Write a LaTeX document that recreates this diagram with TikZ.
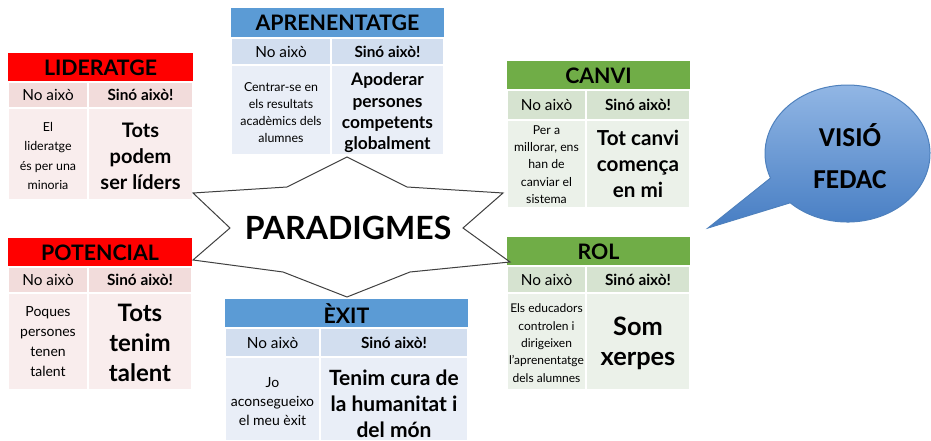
\documentclass[tikz,border=0pt]{standalone}
\usepackage{fontspec}
\setmainfont{Lato}
\newfontfamily\bubfont{Carlito}
\definecolor{redHdr}{RGB}{255,0,0}
\definecolor{redSub}{RGB}{242,220,219}
\definecolor{redBody}{RGB}{249,237,237}
\definecolor{bluHdr}{RGB}{91,155,213}
\definecolor{bluSub}{RGB}{210,222,239}
\definecolor{bluBody}{RGB}{233,238,247}
\definecolor{grnHdr}{RGB}{112,173,71}
\definecolor{grnSub}{RGB}{214,227,208}
\definecolor{grnBody}{RGB}{235,241,233}
\definecolor{bubTop}{RGB}{149,185,230}
\definecolor{bubBot}{RGB}{70,125,195}
\definecolor{bubLine}{RGB}{79,129,189}
\definecolor{starLine}{RGB}{64,64,64}
\tikzset{
  cell/.style={draw=white, line width=1.5pt},
  hdrtxt/.style={inner sep=0pt, font=\fontsize{16}{19}\selectfont\bfseries},
  subtxt/.style={inner sep=0pt, font=\fontsize{11.5}{14}\selectfont},
  subbf/.style={inner sep=0pt, font=\fontsize{11.5}{14}\selectfont\bfseries},
  lefttxt/.style={inner sep=0pt, align=center},
  righttxt/.style={inner sep=0pt, align=center}
}
\begin{document}
\begin{tikzpicture}[x=0.75pt,y=0.75pt,yscale=-1,xscale=1]
\useasboundingbox (0,0) rectangle (931,441);

%Table: LIDERATGE
\fill[redHdr] (8,53) rectangle (193,82);
\draw[cell, fill=redSub] (8,82) rectangle (88,108);
\draw[cell, fill=redSub] (88,82) rectangle (193,108);
\draw[cell, fill=redBody] (8,108) rectangle (88,200);
\draw[cell, fill=redBody] (88,108) rectangle (193,200);
% Text Node
\node[hdrtxt] (lidHdr) at (100.5,67.5) {LIDERATGE};
\node[subtxt] (lidNo) at (48,95) {No això};
\node[subbf] (lidSi) at (140.5,95) {Sinó això!};
\node[lefttxt, font=\fontsize{9.3}{14.5}\selectfont] (lidOld) at (48,156) {El\\lideratge\\és per una\\minoria};
\node[righttxt, font=\fontsize{15}{19.5}\selectfont\bfseries] (lidNew) at (140.5,156) {Tots\\podem\\ser líders};

%Table: APRENENTATGE
\fill[bluHdr] (231,8) rectangle (444,38);
\draw[cell, fill=bluSub] (231,38) rectangle (331,65);
\draw[cell, fill=bluSub] (331,38) rectangle (444,65);
\draw[cell, fill=bluBody] (231,65) rectangle (331,155);
\draw[cell, fill=bluBody] (331,65) rectangle (444,155);
% Text Node
\node[hdrtxt] (aprHdr) at (337.5,23) {APRENENTATGE};
\node[subtxt] (aprNo) at (281,51.5) {No això};
\node[subbf] (aprSi) at (387.5,51.5) {Sinó això!};
\node[lefttxt, font=\fontsize{9.3}{12.75}\selectfont] (aprOld) at (281,113) {Centrar-se en\\els resultats\\acadèmics dels\\alumnes};
\node[righttxt, font=\fontsize{13}{16}\selectfont\bfseries] (aprNew) at (387.5,113) {Apoderar\\persones\\competents\\globalment};

%Table: CANVI
\fill[grnHdr] (507,61) rectangle (690,90);
\draw[cell, fill=grnSub] (507,90) rectangle (586,120);
\draw[cell, fill=grnSub] (586,90) rectangle (690,120);
\draw[cell, fill=grnBody] (507,120) rectangle (586,208);
\draw[cell, fill=grnBody] (586,120) rectangle (690,208);
% Text Node
\node[hdrtxt] (canHdr) at (598.5,75.5) {CANVI};
\node[subtxt] (canNo) at (546.5,105) {No això};
\node[subbf] (canSi) at (638,105) {Sinó això!};
\node[lefttxt, font=\fontsize{9.2}{13}\selectfont] (canOld) at (546.5,164.5) {Per a\\millorar, ens\\han de\\canviar el\\sistema};
\node[righttxt, font=\fontsize{15.5}{19.5}\selectfont\bfseries] (canNew) at (638,164) {Tot canvi\\comença\\en mi};

%Table: POTENCIAL
\fill[redHdr] (8,238) rectangle (192,267);
\draw[cell, fill=redSub] (8,267) rectangle (88,293);
\draw[cell, fill=redSub] (88,267) rectangle (192,293);
\draw[cell, fill=redBody] (8,293) rectangle (88,390);
\draw[cell, fill=redBody] (88,293) rectangle (192,390);
% Text Node
\node[hdrtxt] (potHdr) at (100,252.5) {POTENCIAL};
\node[subtxt] (potNo) at (48,280) {No això};
\node[subbf] (potSi) at (140,280) {Sinó això!};
\node[lefttxt, font=\fontsize{10.5}{15}\selectfont] (potOld) at (48,341.5) {Poques\\persones\\tenen\\talent};
\node[righttxt, font=\fontsize{18}{22.5}\selectfont\bfseries] (potNew) at (140,343) {Tots\\tenim\\talent};

%Table: EXIT
\fill[bluHdr] (225,299) rectangle (468,328);
\draw[cell, fill=bluSub] (225,328) rectangle (320,357);
\draw[cell, fill=bluSub] (320,328) rectangle (468,357);
\draw[cell, fill=bluBody] (225,357) rectangle (320,441);
\draw[cell, fill=bluBody] (320,357) rectangle (468,441);
% Text Node
\node[hdrtxt] (exiHdr) at (346.5,313.5) {ÈXIT};
\node[subtxt] (exiNo) at (272.5,342.5) {No això};
\node[subbf] (exiSi) at (394,342.5) {Sinó això!};
\node[lefttxt, font=\fontsize{10.5}{14}\selectfont] (exiOld) at (272.5,401.5) {Jo\\aconsegueixo\\el meu èxit};
\node[righttxt, font=\fontsize{15.75}{19.5}\selectfont\bfseries] (exiNew) at (394,404) {Tenim cura de\\la humanitat i\\del món};

%Table: ROL
\fill[grnHdr] (507,237) rectangle (690,266);
\draw[cell, fill=grnSub] (507,266) rectangle (586,293);
\draw[cell, fill=grnSub] (586,266) rectangle (690,293);
\draw[cell, fill=grnBody] (507,293) rectangle (586,390);
\draw[cell, fill=grnBody] (586,293) rectangle (690,390);
% Text Node
\node[hdrtxt] (rolHdr) at (598.5,251.5) {ROL};
\node[subtxt] (rolNo) at (546.5,279.5) {No això};
\node[subbf] (rolSi) at (638,279.5) {Sinó això!};
\node[lefttxt, font=\fontsize{9}{13}\selectfont] (rolOld) at (546.5,343) {Els educadors\\controlen i\\dirigeixen\\l'aprenentatge\\dels alumnes};
\node[righttxt, font=\fontsize{19}{22.5}\selectfont\bfseries] (rolNew) at (638,343) {Som\\xerpes};

%Shape: Star
\draw[starLine, fill=white, line width=0.75pt] (347,157) -- (407,187) -- (503,193) -- (463,228) -- (510,262) -- (410,272) -- (347,297) -- (283,272) -- (193,260) -- (230,228) -- (193,193) -- (287,187) -- cycle;
% Text Node
\node[inner sep=0pt, font=\fontsize{24}{28}\selectfont\bfseries] (paraTxt) at (348,228) {PARADIGMES};

%Shape: Speech bubble
\draw[bubLine, line width=0.75pt, top color=bubTop, bottom color=bubBot] (708,228) -- (790.2,202.8) arc[start angle=134, end angle=-201, x radius=82.5, y radius=68.5] -- cycle;
% Text Node
\node[inner sep=0pt, align=center, font=\bubfont\fontsize{20.5}{31}\selectfont\bfseries] (bubTxt) at (850,156) {VISIÓ\\FEDAC};

\end{tikzpicture}
\end{document}
